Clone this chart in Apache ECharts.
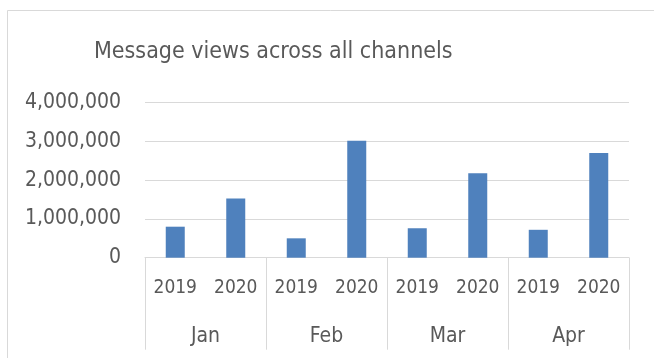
<!DOCTYPE html>
<html><head><meta charset="utf-8">
<script src="https://cdn.jsdelivr.net/npm/echarts@6/dist/echarts.min.js"></script>
<style>html,body{margin:0;padding:0;background:#fff}#c{width:654px;height:358px}</style>
</head><body><div id="c"></div>
<script>
const title = 'Message views across all channels';
const months = ['Jan', 'Feb', 'Mar', 'Apr'];
const years = ['2019', '2020', '2019', '2020', '2019', '2020', '2019', '2020'];
const views = [800000, 1530000, 500000, 3020000, 760000, 2180000, 720000, 2700000];
const yTicks = [0, 1000000, 2000000, 3000000, 4000000];

const FONT = "'Liberation Sans Narrow', 'DejaVu Sans Condensed', 'Liberation Sans', sans-serif";
const chart = echarts.init(document.getElementById('c'), null, {renderer: 'canvas'});
chart.setOption({
  animation: false,
  backgroundColor: '#fff',
  graphic: [{
    type: 'polyline', silent: true,
    shape: {points: [[7.5, 358], [7.5, 10.5], [654, 10.5]]},
    style: {stroke: '#d9d9d9', lineWidth: 1, fill: null}
  }],
  title: {
    text: title, left: 89, top: 36,
    textStyle: {fontFamily: FONT, fontSize: 23, fontWeight: 'normal', color: '#595959'}
  },
  grid: {left: 145, right: 25, top: 102.7, bottom: 100.3, containLabel: false},
  xAxis: [{
    type: 'category', data: years, position: 'bottom',
    axisLine: {show: true, lineStyle: {color: '#d9d9d9', width: 1}},
    axisTick: {show: false},
    axisLabel: {fontFamily: FONT, fontSize: 19, color: '#595959', margin: 21, interval: 0}
  }, {
    type: 'category', data: months, position: 'bottom',
    axisLine: {show: false},
    axisTick: {show: true, length: 92, lineStyle: {color: '#d9d9d9', width: 1}},
    axisLabel: {fontFamily: FONT, fontSize: 21, color: '#595959', margin: 68, interval: 0}
  }],
  yAxis: {
    type: 'value', min: yTicks[0], max: yTicks[yTicks.length - 1], interval: yTicks[1] - yTicks[0],
    axisLine: {show: false}, axisTick: {show: false},
    splitLine: {lineStyle: {color: '#d9d9d9', width: 1}},
    axisLabel: {fontFamily: FONT, fontSize: 21, color: '#595959', margin: 24,
      formatter: v => v.toLocaleString('en-US')}
  },
  series: [{
    type: 'bar', xAxisIndex: 0, data: views, barWidth: 19,
    itemStyle: {color: '#4f81bd'}
  }]
});
</script></body></html>
